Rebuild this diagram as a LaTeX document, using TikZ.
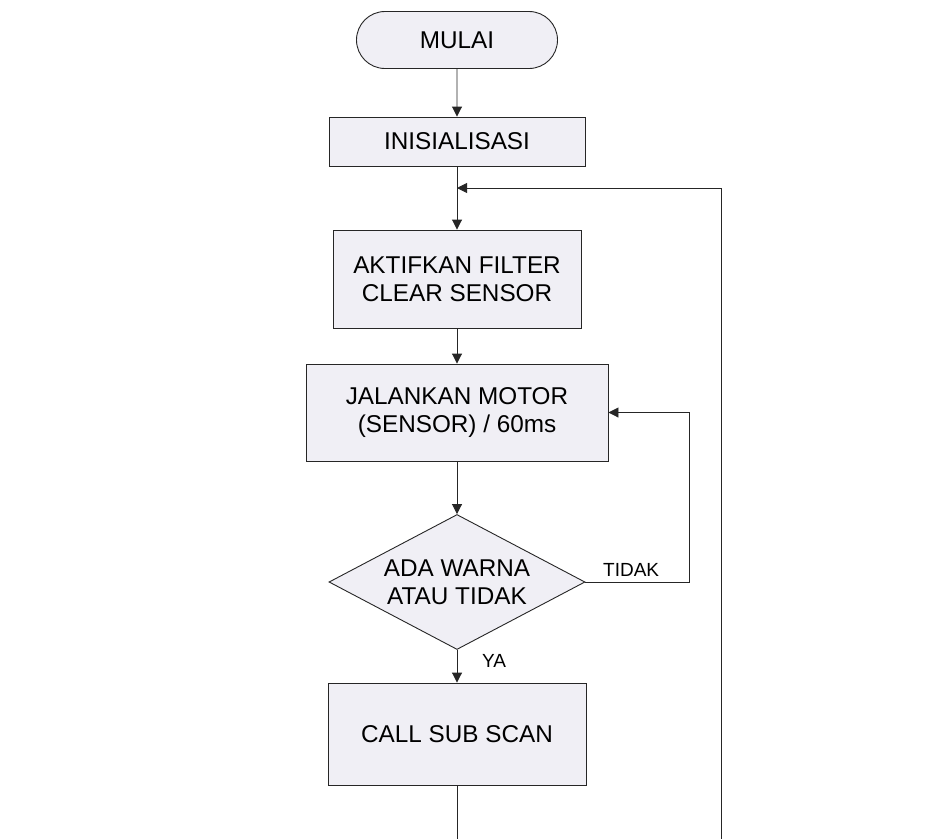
\documentclass[tikz,border=0pt]{standalone}
\usepackage{fontspec}
\setmainfont{Liberation Sans}
\usetikzlibrary{shapes.geometric,shapes.misc,arrows.meta}
\definecolor{boxfill}{RGB}{240,239,245}
\begin{document}
\begin{tikzpicture}[x=1pt,y=-1pt,
  base/.style={draw=black!85, line width=0.9pt, fill=boxfill, font=\fontsize{24.3}{28}\selectfont, align=center, inner sep=0pt},
  procbox/.style={base, rectangle},
  termbox/.style={base, rounded rectangle},
  decbox/.style={base, diamond, aspect=1.9},
  conn/.style={draw=black!85, line width=0.9pt},
  arr/.style={conn, -{Triangle[length=10pt,width=10pt]}},
  lbl/.style={font=\fontsize{19}{22}\selectfont, inner sep=0pt}]
\useasboundingbox (0,0) rectangle (934,839);
\fill[white] (0,0) rectangle (934,839);

\node[termbox, minimum width=201pt, minimum height=57pt] (mulai) at (457,40) {MULAI};
\node[procbox, minimum width=256pt, minimum height=49pt] (init) at (457,141.5) {INISIALISASI};
\node[procbox, minimum width=248pt, minimum height=98pt] (aktif) at (457,279) {AKTIFKAN FILTER\\CLEAR SENSOR};
\node[procbox, minimum width=302pt, minimum height=97pt] (jalan) at (457,412.5) {JALANKAN MOTOR\\(SENSOR) / 60ms};
\node[decbox, minimum width=256pt, minimum height=135pt] (dec) at (457,582) {ADA WARNA\\ATAU TIDAK};
\node[procbox, minimum width=258pt, minimum height=102pt] (call) at (457,734) {CALL SUB SCAN};

\node[lbl, anchor=base west] (tidak) at (603,576) {TIDAK};
\node[lbl, anchor=base west] (ya) at (482,667) {YA};

\coordinate (join) at (457,188);
\coordinate (retTop) at (721,188);
\coordinate (retBot) at (721,839);
\coordinate (callBot) at (457,839);
\coordinate (tkA) at (689,582);
\coordinate (tkB) at (689,412.5);

\draw[arr] (mulai) -- (init);
\draw[arr] (init) -- (aktif);
\draw[arr] (retBot) -- (retTop) -- (join);
\draw[arr] (aktif) -- (jalan);
\draw[arr] (jalan) -- (dec);
\draw[arr] (dec.east) -- (tkA) -- (tkB) -- (jalan.east);
\draw[arr] (dec.south) -- (call);
\draw[conn] (call.south) -- (callBot);
\end{tikzpicture}
\end{document}
